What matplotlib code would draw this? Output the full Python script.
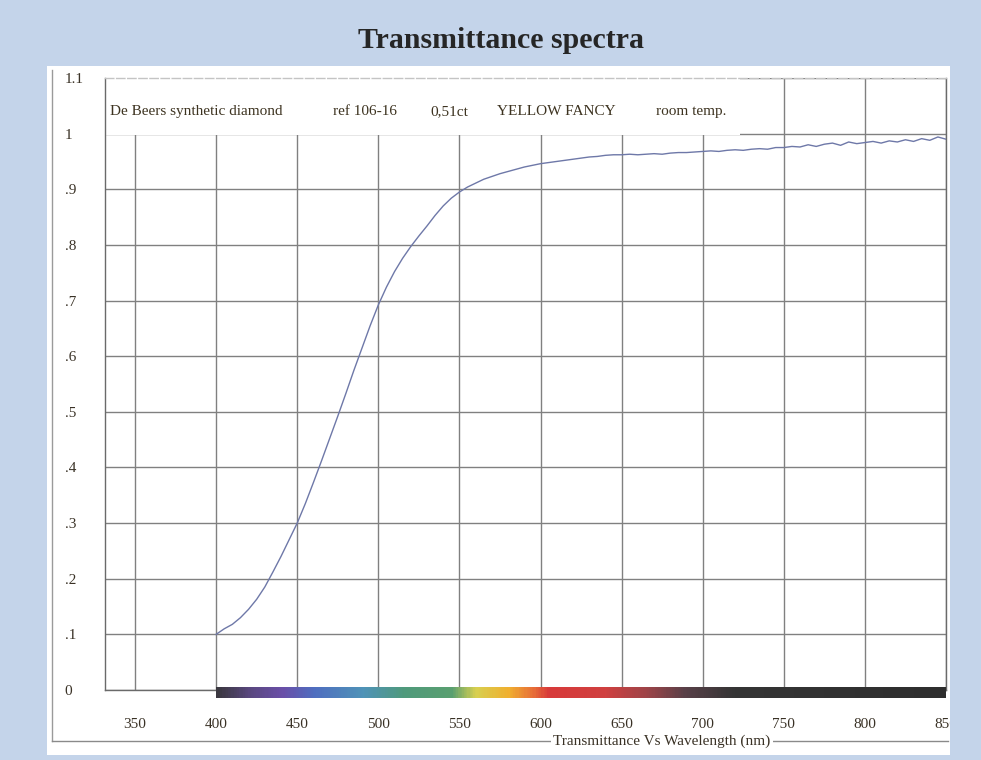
import matplotlib
matplotlib.use("Agg")
import matplotlib.pyplot as plt
import numpy as np
from matplotlib.patches import Rectangle
from matplotlib.lines import Line2D
from matplotlib.colors import LinearSegmentedColormap

# ---------------- data ----------------
wavelength = list(range(400, 851, 5))
transmittance = [
    0.100, 0.110, 0.118, 0.130, 0.145, 0.163, 0.185, 0.212, 0.240, 0.270,   # 400-445
    0.300, 0.335, 0.373, 0.412, 0.452, 0.492, 0.533, 0.575, 0.615, 0.655,   # 450-495
    0.692, 0.724, 0.752, 0.776, 0.797, 0.816, 0.834, 0.853, 0.870, 0.884,   # 500-545
    0.895, 0.904, 0.911, 0.918, 0.923, 0.928, 0.932, 0.936, 0.940, 0.943,   # 550-595
    0.946, 0.948, 0.950, 0.952, 0.954, 0.956, 0.958, 0.959, 0.961, 0.962,   # 600-645
    0.962, 0.963, 0.962, 0.963, 0.964, 0.963, 0.965, 0.966, 0.966, 0.967,   # 650-695
    0.968, 0.969, 0.968, 0.970, 0.971, 0.970, 0.972, 0.973, 0.972, 0.975,   # 700-745
    0.975, 0.977, 0.976, 0.980, 0.977, 0.981, 0.983, 0.979, 0.985, 0.982,   # 750-795
    0.984, 0.986, 0.983, 0.987, 0.985, 0.989, 0.986, 0.991, 0.988, 0.994,   # 800-845
    0.990,                                                                  # 850
]
x_ticks = [350, 400, 450, 500, 550, 600, 650, 700, 750, 800, 850]
x_tick_labels = ["350", "400", "450", "500", "550", "600", "650", "700", "750", "800", "850"]
y_ticks = [0, 0.1, 0.2, 0.3, 0.4, 0.5, 0.6, 0.7, 0.8, 0.9, 1.0, 1.1]
y_tick_labels = ["0", ".1", ".2", ".3", ".4", ".5", ".6", ".7", ".8", ".9", "1", "1.1"]
title = "Transmittance spectra"
xlabel = "Transmittance Vs Wavelength (nm)"
note_parts = ["De Beers synthetic diamond", "ref 106-16", "0,51ct", "YELLOW FANCY", "room temp."]
note_x_px = [110, 333, 430, 497, 656]

# spectrum colour stops (wavelength, colour)
spec_stops = [(400, "#3b3840"), (420, "#5a4880"), (440, "#6a4fa8"), (460, "#4f6ec0"),
              (490, "#4f93b8"), (515, "#4f9a7c"), (545, "#5aa070"), (560, "#d8d050"),
              (580, "#f0b030"), (595, "#e87038"), (605, "#d83a3a"), (640, "#d04040"),
              (665, "#a04448"), (690, "#584048"), (720, "#353535"), (850, "#2e2e2e")]

# ---------------- figure ----------------
W, H = 981, 760
fig = plt.figure(figsize=(W / 100, H / 100), dpi=100)
fig.patch.set_facecolor("#c4d4ea")
serif = ["Liberation Serif", "DejaVu Serif"]

def fx(x):
    return x / W

def fy(y):
    return 1 - y / H

# white panel
fig.patches.append(Rectangle((fx(47), fy(755)), fx(950) - fx(47), fy(66) - fy(755),
                             transform=fig.transFigure, facecolor="white",
                             edgecolor="none", zorder=-5))
# frame lines
fig.lines.append(Line2D([fx(52), fx(52)], [fy(70), fy(741)], transform=fig.transFigure,
                        color="#9a9a9a", lw=1.0))
fig.lines.append(Line2D([fx(52), fx(948)], [fy(741), fy(741)], transform=fig.transFigure,
                        color="#8a8a8a", lw=1.0))

fig.text(fx(501), fy(41), title, ha="center", va="center", fontsize=21.5,
         fontweight="bold", family=serif, color="#262626")

ax_left, ax_right, ax_top, ax_bot = 105, 946, 78, 690
ax = fig.add_axes([fx(ax_left), fy(ax_bot), fx(ax_right) - fx(ax_left), fy(ax_top) - fy(ax_bot)])
ax.set_facecolor("white")

x_min, x_max = 331.5, 850
ax.set_xlim(x_min, x_max)
ax.set_ylim(0, 1.1)

ax.set_xticks(x_ticks)
ax.set_xticklabels(x_tick_labels, family=serif, fontsize=11, color="#3a3226")
ax.set_yticks(y_ticks)
ax.set_yticklabels(y_tick_labels, family=serif, fontsize=11, color="#3a3226", ha="left")
ax.tick_params(axis="x", length=0, pad=20)
ax.tick_params(axis="y", length=0, pad=29)

ax.grid(True, color="#808080", lw=1.0)
ax.set_axisbelow(True)

for s in ["left", "right", "bottom"]:
    ax.spines[s].set_color("#6a6a6a")
    ax.spines[s].set_linewidth(1.0)
ax.spines["top"].set_color("#c4c4c4")
ax.spines["top"].set_linewidth(1.0)
ax.spines["top"].set_linestyle((0, (6, 2)))

# annotation box covering the upper-left grid
ax.add_patch(Rectangle((x_min, 0.997), 723 - x_min, 0.2, facecolor="white",
                       edgecolor="none", zorder=1.2))
for part, px in zip(note_parts, note_x_px):
    ax.text(x_min + (px - ax_left) / ((ax_right - ax_left) / (x_max - x_min)), 1.04, part,
            ha="left", va="center", family=serif, fontsize=11, color="#3d3320", zorder=3)

# spectrum bar
cmap = LinearSegmentedColormap.from_list(
    "spec", [((w - 400) / 450, c) for w, c in spec_stops])
grad = np.linspace(0, 1, 600).reshape(1, -1)
ax.imshow(grad, extent=[400, 850, -0.015, 0.004], aspect="auto", cmap=cmap,
          clip_on=False, zorder=4, interpolation="bilinear")

ax.plot(wavelength, transmittance, color="#6e78a8", lw=1.0, zorder=3)

ax.set_xlim(x_min, x_max)
ax.set_ylim(0, 1.1)

fig.text(fx(662), fy(741), xlabel, ha="center", va="center", family=serif,
         fontsize=11, color="#3a3226",
         bbox=dict(facecolor="white", edgecolor="none", pad=2))

# background strip on the right covering the cut-off label
fig.patches.append(Rectangle((fx(950), 0), 1 - fx(950), 1, transform=fig.transFigure,
                             facecolor="#c4d4ea", edgecolor="none", zorder=10))

fig.savefig("out.png", dpi=100, facecolor=fig.get_facecolor())
